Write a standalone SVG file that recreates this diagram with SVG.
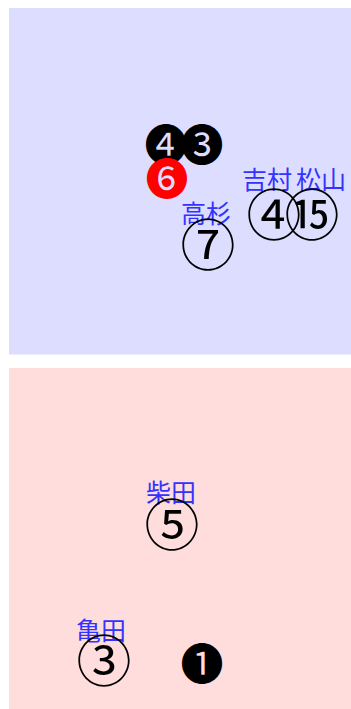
<svg xmlns="http://www.w3.org/2000/svg" width="351" height="709" viewBox="0 0 351 709">
<style>
.mk{font-family:"DejaVu Serif","Noto Sans CJK JP",serif;font-size:55px;text-anchor:middle;dominant-baseline:central;fill:#000}
.fl{font-size:43px}
.red{fill:#f00}
.lb{font-family:"Noto Sans CJK JP",sans-serif;font-size:25px;text-anchor:middle;fill:#33f}
</style>
<g id="zone-top"><rect x="9" y="8" width="342" height="346.5" fill="#ddf"/></g>
<g id="zone-bottom"><rect x="9" y="368" width="342" height="341" fill="#fdd"/></g>
<g id="connectors"></g>
<g id="n-b4"><text class="mk fl" x="166" y="146">❹</text></g>
<g id="n-b3"><text class="mk fl" x="202" y="146">❸</text></g>
<g id="n-r6"><text class="mk fl red" x="167" y="180">❻</text></g>
<g id="n-takasugi"><text class="lb" x="206" y="223">高杉</text><text class="mk" x="208" y="246">⑦</text></g>
<g id="n-yoshimura"><text class="lb" x="267" y="189">吉村</text><text class="mk" x="274" y="216">④</text></g>
<g id="n-matsuyama"><text class="lb" x="321" y="189">松山</text><text class="mk" x="312" y="216">⑮</text></g>
<g id="n-shibata"><text class="lb" x="171" y="502">柴田</text><text class="mk" x="172" y="526">⑤</text></g>
<g id="n-kameda"><text class="lb" x="101" y="640">亀田</text><text class="mk" x="104" y="662">③</text></g>
<g id="n-b1"><text class="mk fl" x="202" y="665">❶</text></g>
</svg>
